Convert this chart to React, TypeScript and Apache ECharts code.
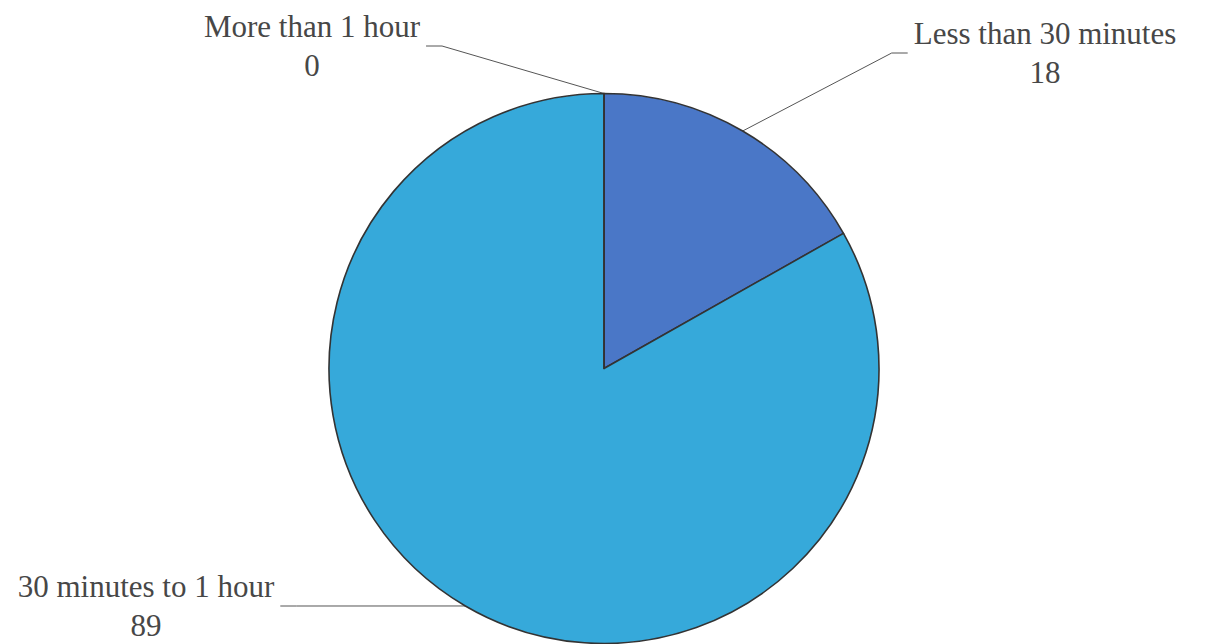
import React, { useEffect, useRef } from "react";
import * as echarts from "echarts";

const categories = ["Less than 30 minutes", "30 minutes to 1 hour", "More than 1 hour"];
const values = [18, 89, 0];
const colors = ["#4a77c7", "#36a9da", "#9bbb59"];
// label block centres (layout)
const labelAnchors: number[][] = [
  [1045, 53],
  [146, 606],
  [312, 46],
];

const CX = 604;
const CY = 368.5;
const R = 275;

export default function App() {
  const ref = useRef<HTMLDivElement>(null);
  useEffect(() => {
    if (!ref.current) return;
    const chart = echarts.init(ref.current, undefined, { renderer: "svg" });
    const total = values.reduce((a, b) => a + b, 0);
    chart.setOption({
      animation: false,
      backgroundColor: "#ffffff",
      series: [
        {
          type: "pie",
          center: [CX, CY],
          radius: R,
          startAngle: 90,
          clockwise: true,
          avoidLabelOverlap: false,
          data: categories.map((name, i) => ({
            name,
            value: values[i],
            itemStyle: { color: colors[i] },
          })),
          itemStyle: { borderColor: "#333333", borderWidth: 1.6 },
          label: {
            show: true,
            position: "outside",
            formatter: "{b}\n{c}",
            fontFamily: "Times New Roman, Liberation Serif, serif",
            fontSize: 31,
            lineHeight: 39,
            color: "#474747",
            align: "center",
          },
          labelLine: {
            show: true,
            lineStyle: { color: "#555555", width: 1 },
          },
          emphasis: { disabled: true },
          labelLayout: (params: any) => {
            const i = params.dataIndex;
            let before = 0;
            for (let k = 0; k < i; k++) before += values[k];
            const mid = ((before + values[i] / 2) / total) * Math.PI * 2;
            const edge = [CX + R * Math.sin(mid), CY - R * Math.cos(mid)];
            const [lx, ly] = labelAnchors[i];
            const half = params.labelRect.width / 2;
            const side = lx > CX ? -1 : 1;
            const end = [lx + side * (half + 6), ly];
            const elbow = [end[0] + side * 16, ly];
            return {
              x: lx,
              y: ly,
              align: "center",
              verticalAlign: "middle",
              labelLinePoints: [edge, elbow, end],
            };
          },
        },
      ],
    });
    return () => chart.dispose();
  }, []);
  return (
    <div
      ref={ref}
      style={{ position: "fixed", left: 0, top: 0, width: 1229, height: 644 }}
    />
  );
}
